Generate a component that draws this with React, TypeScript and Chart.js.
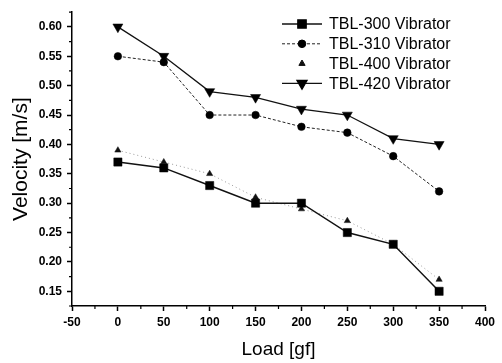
import React, { useEffect, useRef } from 'react';
import { Chart, registerables } from 'chart.js';
import { drawPoint } from 'chart.js/helpers';

Chart.register(...registerables);

const loads = [0, 50, 100, 150, 200, 250, 300, 350];
const tbl300 = [0.37, 0.36, 0.33, 0.3, 0.3, 0.25, 0.23, 0.15];
const tbl310 = [0.55, 0.54, 0.45, 0.45, 0.43, 0.42, 0.38, 0.32];
const tbl400 = [0.39, 0.37, 0.35, 0.31, 0.29, 0.27, 0.23, 0.17];
const tbl420 = [0.6, 0.55, 0.49, 0.48, 0.46, 0.45, 0.41, 0.4];
const seriesNames = ['TBL-300 Vibrator', 'TBL-310 Vibrator', 'TBL-400 Vibrator', 'TBL-420 Vibrator'];

const xTickValues = [-50, 0, 50, 100, 150, 200, 250, 300, 350, 400];
const xMinorTicks = [-25, 25, 75, 125, 175, 225, 275, 325, 375];
const yTickValues = [0.15, 0.2, 0.25, 0.3, 0.35, 0.4, 0.45, 0.5, 0.55, 0.6];
const yTickLabels = ['0.15', '0.20', '0.25', '0.30', '0.35', '0.40', '0.45', '0.50', '0.55', '0.60'];
const yMinorTicks = [0.125, 0.175, 0.225, 0.275, 0.325, 0.375, 0.425, 0.475, 0.525, 0.575, 0.625];

const xTitle = 'Load [gf]';
const yTitle = 'Velocity [m/s]';

const FONT = "'Liberation Sans', Arial, sans-serif";

const toPts = (vals: number[]) => vals.map((v, i) => ({ x: loads[i], y: v }));

const minorTicksPlugin = {
  id: 'minorTicks',
  afterDraw(chart: any) {
    const { ctx, chartArea, scales } = chart;
    ctx.save();
    ctx.strokeStyle = '#000';
    ctx.lineWidth = 1.2;
    ctx.beginPath();
    xMinorTicks.forEach((v) => {
      const px = scales.x.getPixelForValue(v);
      ctx.moveTo(px, chartArea.bottom);
      ctx.lineTo(px, chartArea.bottom + 3);
    });
    yMinorTicks.forEach((v) => {
      const py = scales.y.getPixelForValue(v);
      ctx.moveTo(chartArea.left - 3, py);
      ctx.lineTo(chartArea.left, py);
    });
    ctx.stroke();
    ctx.restore();
  },
};

const legendPlugin = {
  id: 'customLegend',
  afterDraw(chart: any) {
    const { ctx } = chart;
    const x0 = 282;
    const x1 = 322;
    const xm = 302;
    const xt = 329;
    const y0 = 24;
    const dy = 19.8;
    ctx.save();
    chart.data.datasets.forEach((ds: any, i: number) => {
      const y = y0 + i * dy;
      if (ds.legendLine !== false) {
        ctx.strokeStyle = ds.borderColor;
        ctx.lineWidth = ds.borderWidth;
        ctx.setLineDash(ds.borderDash || []);
        ctx.beginPath();
        ctx.moveTo(x0, y);
        ctx.lineTo(x1, y);
        ctx.stroke();
        ctx.setLineDash([]);
      }
      ctx.fillStyle = ds.pointBackgroundColor;
      ctx.strokeStyle = ds.pointBorderColor;
      drawPoint(
        ctx,
        {
          pointStyle: ds.pointStyle,
          radius: ds.pointRadius,
          rotation: ds.pointRotation || 0,
          borderWidth: ds.pointBorderWidth,
        },
        xm,
        y
      );
      ctx.fillStyle = '#000';
      ctx.font = `16px ${FONT}`;
      ctx.textAlign = 'left';
      ctx.textBaseline = 'middle';
      ctx.fillText(ds.label, xt, y + 1);
    });
    ctx.restore();
  },
};

export default function App() {
  const ref = useRef<HTMLCanvasElement | null>(null);

  useEffect(() => {
    if (!ref.current) return;
    const chart = new Chart(ref.current, {
      type: 'line',
      data: {
        datasets: [
          {
            label: seriesNames[0],
            data: toPts(tbl300),
            borderColor: '#111',
            borderWidth: 1.5,
            pointStyle: 'rect',
            pointRadius: 5.8,
            pointBackgroundColor: '#000',
            pointBorderColor: '#000',
            pointBorderWidth: 0.5,
          },
          {
            label: seriesNames[1],
            data: toPts(tbl310),
            borderColor: '#222',
            borderWidth: 1,
            borderDash: [3, 2],
            pointStyle: 'circle',
            pointRadius: 3.8,
            pointBackgroundColor: '#000',
            pointBorderColor: '#000',
            pointBorderWidth: 0.5,
          },
          {
            label: seriesNames[2],
            data: toPts(tbl400),
            borderColor: '#999',
            borderWidth: 1,
            borderDash: [1, 3],
            pointStyle: 'triangle',
            pointRadius: 3.6,
            pointBackgroundColor: '#111',
            pointBorderColor: '#111',
            pointBorderWidth: 0.5,
            legendLine: false,
          },
          {
            label: seriesNames[3],
            data: toPts(tbl420),
            borderColor: '#111',
            borderWidth: 1.3,
            pointStyle: 'triangle',
            pointRotation: 180,
            pointRadius: 5.8,
            pointBackgroundColor: '#000',
            pointBorderColor: '#000',
            pointBorderWidth: 0.5,
          },
        ] as any,
      },
      options: {
        responsive: false,
        animation: false,
        clip: false as any,
        layout: { padding: { top: 4, right: 17, left: 0, bottom: 0 } },
        plugins: {
          legend: { display: false },
          tooltip: { enabled: false },
        },
        elements: { line: { tension: 0 } },
        scales: {
          x: {
            type: 'linear',
            min: -50,
            max: 400,
            afterFit: (s: any) => {
              s.height = 57;
            },
            afterBuildTicks: (s: any) => {
              s.ticks = xTickValues.map((v) => ({ value: v }));
            },
            border: { display: true, color: '#000', width: 1.5 },
            grid: {
              drawOnChartArea: false,
              drawTicks: true,
              tickLength: 5,
              tickColor: '#000',
              tickWidth: 1.5,
            },
            ticks: {
              color: '#000',
              padding: 4,
              maxRotation: 0,
              font: { family: FONT, size: 12, weight: 'bold' },
              callback: (v: any) => String(v),
            },
            title: {
              display: true,
              text: xTitle,
              color: '#000',
              font: { family: FONT, size: 19 },
              padding: { top: 0, bottom: 2 },
            },
          },
          y: {
            type: 'linear',
            min: 0.125,
            max: 0.625,
            afterFit: (s: any) => {
              s.width = 72;
            },
            afterBuildTicks: (s: any) => {
              s.ticks = yTickValues.map((v) => ({ value: v }));
            },
            border: { display: true, color: '#000', width: 1.5 },
            grid: {
              drawOnChartArea: false,
              drawTicks: true,
              tickLength: 5,
              tickColor: '#000',
              tickWidth: 1.5,
            },
            ticks: {
              color: '#000',
              padding: 5,
              font: { family: FONT, size: 12, weight: 'bold' },
              callback: (v: any) => {
                const idx = yTickValues.findIndex((t) => Math.abs(t - v) < 1e-6);
                return idx >= 0 ? yTickLabels[idx] : '';
              },
            },
            title: {
              display: true,
              text: yTitle,
              color: '#000',
              font: { family: FONT, size: 21 },
              padding: { top: 9, bottom: 0 },
            },
          },
        },
      },
      plugins: [minorTicksPlugin, legendPlugin],
    });
    return () => chart.destroy();
  }, []);

  return (
    <div style={{ position: 'absolute', left: 0, top: 0, width: 502, height: 363, background: '#fff' }}>
      <canvas ref={ref} width={502} height={363} />
    </div>
  );
}
